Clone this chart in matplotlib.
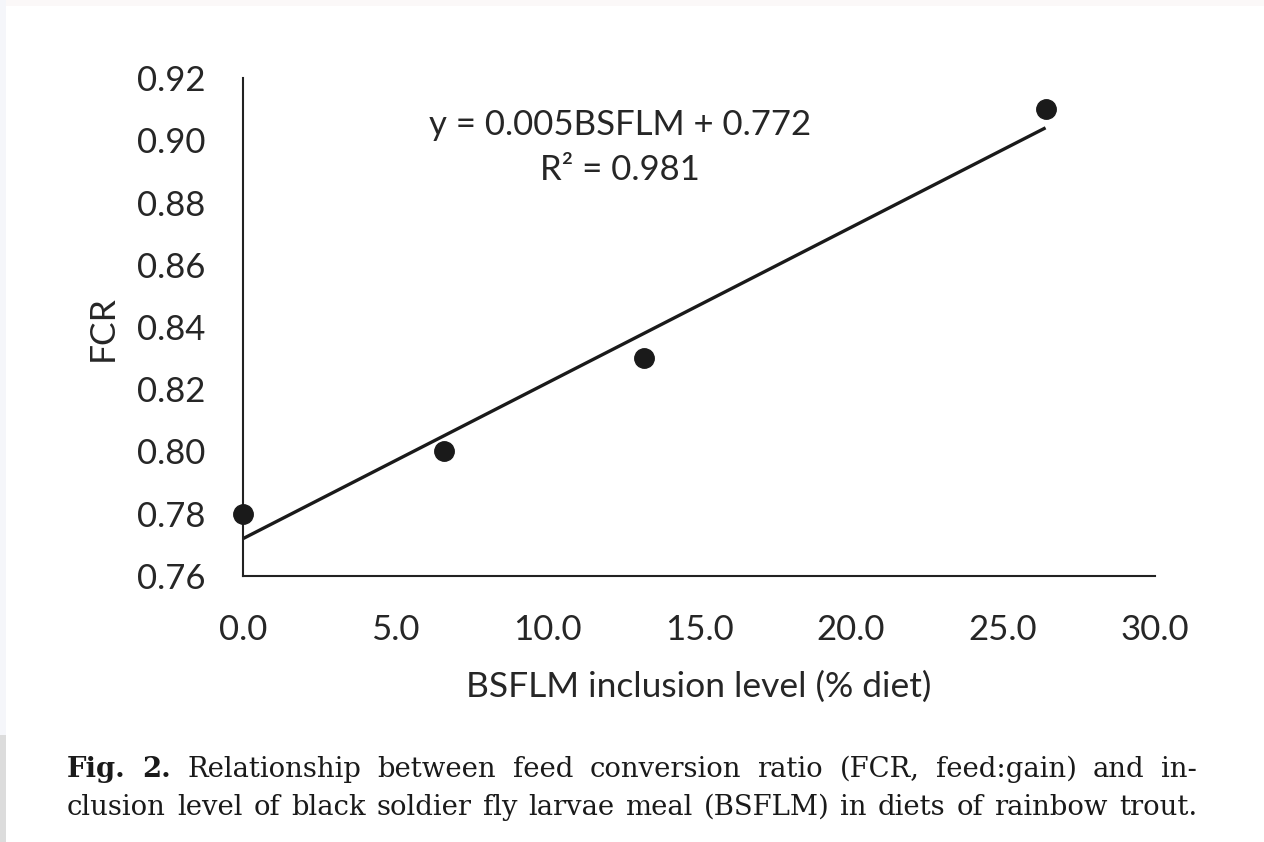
import matplotlib
matplotlib.use("Agg")
import matplotlib.pyplot as plt
from matplotlib.patches import Rectangle
import numpy as np

# Data
bsflm = [0.0, 6.6, 13.2, 26.4]
fcr = [0.78, 0.80, 0.83, 0.91]
slope = 0.005
intercept = 0.772
r2 = 0.981
xticks = [0.0, 5.0, 10.0, 15.0, 20.0, 25.0, 30.0]
yticks = [0.76, 0.78, 0.80, 0.82, 0.84, 0.86, 0.88, 0.90, 0.92]

W, H = 1264, 842
fig = plt.figure(figsize=(W / 100, H / 100), dpi=100)
fig.patch.set_facecolor("white")

# screenshot edge strips
fig.patches.append(Rectangle((0, 1 - 6 / H), 1, 6 / H, transform=fig.transFigure,
                             facecolor="#fbf8f8", edgecolor="none", zorder=0))
fig.patches.append(Rectangle((0, 1 - 735 / H), 6 / W, 735 / H, transform=fig.transFigure,
                             facecolor="#f5f6fa", edgecolor="none", zorder=0))
fig.patches.append(Rectangle((0, 0), 6 / W, 107 / H, transform=fig.transFigure,
                             facecolor="#dcdcdc", edgecolor="none", zorder=0))

txt = "#262626"
sans = ["Lato", "DejaVu Sans"]
ax = fig.add_axes([243 / W, 1 - 576 / H, (1155 - 243) / W, (576 - 78) / H])
ax.set_xlim(0, 30)
ax.set_ylim(0.76, 0.92)
ax.set_xticks(xticks)
ax.set_yticks(yticks)
ax.set_xticklabels([f"{v:.1f}" for v in xticks], fontfamily=sans, fontsize=25, color=txt)
ax.set_yticklabels([f"{v:.2f}" for v in yticks], fontfamily=sans, fontsize=25, color=txt)
ax.tick_params(axis="both", length=0)
ax.tick_params(axis="y", pad=27)
ax.tick_params(axis="x", pad=27)
for s in ["top", "right"]:
    ax.spines[s].set_visible(False)
for s in ["left", "bottom"]:
    ax.spines[s].set_linewidth(1.5)
    ax.spines[s].set_color("#222222")

xs = np.array([min(bsflm), max(bsflm)])
ax.plot(xs, slope * xs + intercept, color="#1a1a1a", lw=2.4, solid_capstyle="butt", zorder=2)
ax.plot(bsflm, fcr, "o", color="#1a1a1a", ms=14, clip_on=False, zorder=3)

ax.text(0.413, 0.905, f"y = {slope:.3f}BSFLM + {intercept:.3f}", transform=ax.transAxes,
        ha="center", va="center", fontfamily=sans, fontsize=25, color=txt)
ax.text(0.413, 0.815, f"R² = {r2:.3f}", transform=ax.transAxes,
        ha="center", va="center", fontfamily=sans, fontsize=25, color=txt)

fig.text(699 / W, 1 - 687 / H, "BSFLM inclusion level (% diet)", ha="center", va="center",
         fontfamily=sans, fontsize=25.5, color=txt)
fig.text(103 / W, 1 - 328 / H, "FCR", ha="center", va="center", rotation=90,
         fontfamily=sans, fontsize=25.5, color=txt)

# Caption (justified)
renderer = fig.canvas.get_renderer()
serif = ["DejaVu Serif"]
cap_lines = [
    [("Fig.", "bold"), ("2.", "bold"), ("Relationship", "normal"), ("between", "normal"),
     ("feed", "normal"), ("conversion", "normal"), ("ratio", "normal"), ("(FCR,", "normal"),
     ("feed:gain)", "normal"), ("and", "normal"), ("in-", "normal")],
    [(w, "normal") for w in "clusion level of black soldier fly larvae meal (BSFLM) in diets of rainbow trout.".split()],
]
baselines = [777, 815]
x0, x1 = 67, 1197
for words, base in zip(cap_lines, baselines):
    objs = []
    for w, wt in words:
        t = fig.text(0, 1 - base / H, w, fontfamily=serif, fontsize=19.8, fontweight=wt,
                     color="#1a1a1a", va="baseline", ha="left")
        objs.append(t)
    widths = [t.get_window_extent(renderer).width for t in objs]
    gap = (x1 - x0 - sum(widths)) / (len(objs) - 1)
    x = x0
    for t, wd in zip(objs, widths):
        t.set_x(x / W)
        x += wd + gap

fig.savefig("out.png", dpi=100, facecolor="white")
